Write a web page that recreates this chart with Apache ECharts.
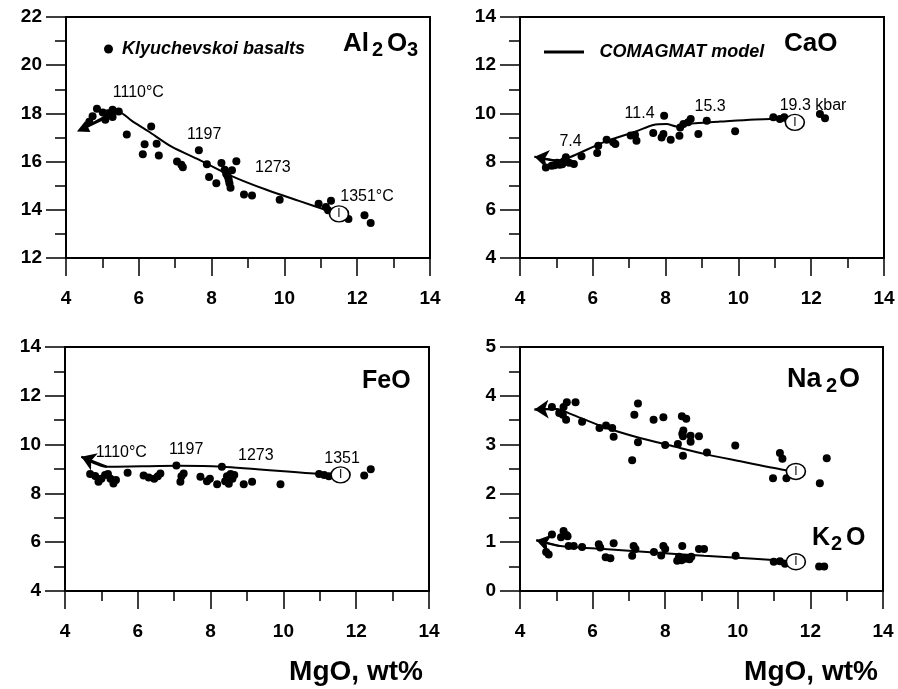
<!DOCTYPE html>
<html><head><meta charset="utf-8">
<script src="https://cdn.jsdelivr.net/npm/echarts@6/dist/echarts.min.js"></script>
<style>html,body{margin:0;padding:0;background:#fff}#c{width:898px;height:689px}</style>
</head><body><div id="c"></div>
<script>
// ---------- DATA ----------
// Panel A: Al2O3 vs MgO
const mgoAl = [4.64,4.73,4.85,5.01,5.08,5.15,5.28,5.28,5.45,5.67,6.16,6.11,6.34,6.49,6.55,7.05,7.17,7.21,7.65,7.87,7.93,8.13,8.27,8.36,8.40,8.44,8.47,8.49,8.52,8.56,8.68,8.89,9.11,9.87,10.94,11.14,11.28,11.20,11.76,12.20,12.37];
const alVals = [17.65,17.88,18.19,18.04,17.74,18.01,18.15,17.85,18.08,17.12,16.72,16.31,17.46,16.74,16.25,16.00,15.87,15.77,16.47,15.89,15.36,15.10,15.94,15.66,15.50,15.39,15.25,15.10,14.92,15.64,16.01,14.63,14.59,14.42,14.25,14.12,14.38,13.98,13.62,13.77,13.45];
// Panel B: CaO vs MgO
const mgoCa = [4.71,4.87,4.95,5.02,5.09,5.16,5.20,5.26,5.35,5.48,5.69,6.12,6.15,6.38,6.56,6.62,7.04,7.16,7.20,7.66,7.89,7.94,7.96,8.14,8.38,8.40,8.49,8.62,8.69,8.90,9.13,9.91,10.96,11.14,11.26,12.24,12.38];
const caVals = [7.76,7.83,7.85,7.95,7.87,7.89,8.00,8.18,7.95,7.90,8.22,8.36,8.66,8.91,8.80,8.73,9.08,9.10,8.87,9.19,9.00,9.15,9.90,8.91,9.07,9.42,9.56,9.63,9.77,9.15,9.70,9.26,9.84,9.77,9.84,9.98,9.80];
// Panel C: FeO vs MgO
const mgoFe = [4.69,4.83,4.92,5.00,5.10,5.18,5.25,5.33,5.40,5.72,6.16,6.30,6.45,6.55,6.62,7.06,7.17,7.20,7.26,7.72,7.90,7.98,8.18,8.31,8.40,8.45,8.50,8.55,8.60,8.65,8.91,9.14,9.92,10.98,11.12,11.25,12.22,12.40];
const feVals = [8.79,8.71,8.48,8.60,8.75,8.80,8.60,8.41,8.55,8.85,8.73,8.65,8.60,8.70,8.82,9.14,8.48,8.70,8.82,8.68,8.50,8.60,8.37,9.09,8.50,8.70,8.40,8.80,8.60,8.75,8.37,8.48,8.37,8.79,8.75,8.70,8.73,8.99];
// Panel D: Na2O and K2O vs MgO
const mgoNa = [4.88,5.08,5.18,5.20,5.27,5.29,5.53,5.71,6.19,6.37,6.54,6.58,7.09,7.15,7.25,7.25,7.68,7.95,8.00,8.35,8.46,8.58,8.49,8.50,8.47,8.49,8.70,8.70,8.93,9.15,9.93,10.97,11.16,11.23,11.34,12.26,12.45];
const naVals = [3.77,3.65,3.61,3.77,3.51,3.87,3.87,3.47,3.34,3.39,3.34,3.16,2.68,3.61,3.84,3.05,3.51,3.56,2.99,3.01,3.58,3.53,3.17,3.29,3.22,2.77,3.18,3.06,3.17,2.84,2.98,2.31,2.83,2.71,2.31,2.21,2.72];
const mgoK = [4.72,4.79,4.88,5.13,5.20,5.28,5.31,5.34,5.48,5.71,6.17,6.21,6.36,6.49,6.58,7.09,7.13,7.18,7.69,7.89,7.95,8.00,8.33,8.38,8.45,8.47,8.55,8.67,8.72,8.93,9.07,9.94,10.99,11.16,11.30,12.24,12.38];
const kVals = [0.80,0.75,1.16,1.10,1.23,1.15,1.12,0.92,0.92,0.90,0.96,0.89,0.69,0.67,0.98,0.72,0.92,0.86,0.80,0.73,0.92,0.86,0.62,0.70,0.63,0.92,0.66,0.65,0.70,0.86,0.86,0.72,0.60,0.61,0.56,0.50,0.50];

// COMAGMAT model paths: [MgO, oxide], from the starting point (open circle) to the arrow end
const alModel = [[11.50,13.83],[11.23,13.95],[10.40,14.37],[9.49,14.84],[8.57,15.39],[7.65,16.08],[6.90,16.62],[6.27,17.25],[5.80,17.70],[5.45,18.06],[4.45,17.35]];
const caModel = [[11.55,9.63],[10.87,9.77],[9.49,9.66],[8.58,9.56],[8.30,9.46],[8.03,9.56],[7.66,9.52],[7.20,9.26],[6.29,8.80],[5.37,8.18],[5.00,8.04],[4.40,8.20]];
const feModel = [[11.57,8.76],[11.02,8.79],[8.31,9.09],[7.10,9.13],[5.15,9.09],[4.45,9.50]];
const naModel = [[11.60,2.45],[11.28,2.48],[9.99,2.67],[9.07,2.81],[8.15,2.98],[7.23,3.15],[6.31,3.36],[5.39,3.63],[5.02,3.73],[4.40,3.72]];
const kModel  = [[11.60,0.60],[11.28,0.62],[10.45,0.66],[9.07,0.72],[7.69,0.79],[6.31,0.86],[5.11,0.92],[4.45,1.04]];

// Annotations along the model curves: [MgO, value, text]
const alNotes = [[5.27,18.86,'1110°C'],[7.31,17.12,'1197'],[9.18,15.75,'1273'],[11.52,14.54,'1351°C']];
const caNotes = [[5.07,8.81,'7.4'],[6.86,9.98,'11.4'],[8.78,10.27,'15.3'],[11.12,10.31,'19.3 kbar']];
const feNotes = [[4.83,9.67,'1110°C'],[6.84,9.78,'1197'],[8.74,9.53,'1273'],[11.11,9.41,'1351']];

// Axis ranges [min, max, interval]
const xRange = [4, 14, 2];
const alRange = [12, 22, 2];
const caRange = [4, 14, 2];
const feRange = [4, 14, 2];
const naKRange = [0, 5, 1];
const xTitle = 'MgO, wt%';
const legendNames = ['Klyuchevskoi basalts', 'COMAGMAT model'];

// ---------- CHART ----------
const FONT = "'Liberation Sans', Arial, Helvetica, sans-serif";
const chart = echarts.init(document.getElementById('c'), null, {renderer:'canvas'});
const grids = [
  {left:66, top:17, width:364, height:241},
  {left:520, top:17, width:364, height:241},
  {left:65, top:347, width:364, height:244},
  {left:520, top:347, width:363, height:244}
].map(g => Object.assign(g, {show:true, borderColor:'#000', borderWidth:2, backgroundColor:'transparent'}));

function axisCommon(r){
  return {type:'value', min:r[0], max:r[1], interval:r[2],
    axisLine:{show:true, onZero:false, lineStyle:{color:'#000', width:2}},
    minorTick:{show:true, splitNumber:2, length:10, lineStyle:{color:'#000', width:1.5}},
    splitLine:{show:false}, minorSplitLine:{show:false},
    axisLabel:{color:'#000', fontSize:19, fontWeight:'bold', fontFamily:FONT, margin:31}};
}
function xAx(i){ const a = axisCommon(xRange); a.gridIndex=i; a.position='bottom';
  a.axisTick={show:true, length:18, lineStyle:{color:'#000', width:1.5}}; return a; }
function yAx(i, r){ const a = axisCommon(r); a.gridIndex=i; a.position='left';
  a.axisTick={show:true, length:20, lineStyle:{color:'#000', width:1.5}};
  a.minorTick.length=11; a.axisLabel.margin=24; return a; }

const pairs = (xs, ys) => xs.map((x,k)=>[x, ys[k]]);
function basalts(i, xs, ys){ return {type:'scatter', name:legendNames[0], xAxisIndex:i, yAxisIndex:i,
  symbol:'circle', symbolSize:8, itemStyle:{color:'#000', opacity:1}, data:pairs(xs,ys), z:3, silent:true}; }
function model(i, pts){ return {type:'line', name:legendNames[1], xAxisIndex:i, yAxisIndex:i, data:pts,
  symbol:'none', smooth:0.25, lineStyle:{color:'#000', width:2}, itemStyle:{color:'#000'}, z:4, silent:true}; }
function arrow(i, pts, sym, size){ const n = pts.length; return {type:'lines', coordinateSystem:'cartesian2d',
  xAxisIndex:i, yAxisIndex:i, symbol:['none', sym], symbolSize:[0, size],
  lineStyle:{color:'#000', width:2, opacity:1}, itemStyle:{color:'#000'},
  data:[{coords:[pts[n-2], pts[n-1]]}], z:4, silent:true}; }
function endCircle(i, pts){ return {type:'scatter', xAxisIndex:i, yAxisIndex:i, data:[pts[0]],
  symbol:'circle', symbolSize:[19,16], itemStyle:{color:'#fff', borderColor:'#000', borderWidth:1.5, opacity:1},
  label:{show:true, position:'inside', formatter:'I', color:'#000', fontSize:12, fontFamily:FONT}, z:6, silent:true}; }
function notes(i, arr){ return {type:'scatter', xAxisIndex:i, yAxisIndex:i,
  data:arr.map(a=>({value:[a[0],a[1]], label:{formatter:a[2]}})), symbolSize:1,
  itemStyle:{color:'rgba(0,0,0,0)', opacity:1},
  label:{show:true, position:'right', distance:0, color:'#000', fontSize:16, fontFamily:FONT}, z:7, silent:true}; }

const legText = {fontSize:18, fontStyle:'italic', fontWeight:'bold', fontFamily:FONT, color:'#000'};
function txt(t, x, y, size, align){ return {type:'text', x:x, y:y, silent:true,
  style:{text:t, fill:'#000', font:'bold '+size+'px '+FONT, align:align||'left', verticalAlign:'middle'}}; }

const option = {
  animation:false,
  backgroundColor:'#fff',
  grid:grids,
  xAxis:[xAx(0), xAx(1), xAx(2), xAx(3)],
  yAxis:[yAx(0, alRange), yAx(1, caRange), yAx(2, feRange), yAx(3, naKRange)],
  legend:[
    {data:[{name:legendNames[0], icon:'circle', itemStyle:{color:'#000', opacity:1}}], left:99, top:35, itemWidth:9, itemHeight:9, itemGap:0,
     selectedMode:false, textStyle:Object.assign({padding:[0,0,0,4]}, legText)},
    {data:[{name:legendNames[1], icon:'path://M0,0H40V3H0Z'}], left:539, top:38, itemWidth:43, itemHeight:3,
     selectedMode:false, textStyle:Object.assign({padding:[0,0,0,9]}, legText)}
  ],
  graphic:[
    txt('Al',343,44,26), txt('2',372,50.5,20), txt('O',387,44,26), txt('3',407,50.5,20),
    txt('CaO',784,44,26),
    txt('FeO',362,381.5,25),
    txt('Na',787,380,27), txt('2',826,386,20), txt('O',839,380,27),
    txt('K',812,538.5,25), txt('2',831,544,20), txt('O',846,538.5,25),
    txt(xTitle,356,672,28,'center'), txt(xTitle,811,672,28,'center')
  ],
  series:[
    basalts(0, mgoAl, alVals), model(0, alModel), arrow(0, alModel, 'triangle', 12), endCircle(0, alModel), notes(0, alNotes),
    basalts(1, mgoCa, caVals), model(1, caModel), arrow(1, caModel, 'arrow', 14), endCircle(1, caModel), notes(1, caNotes),
    basalts(2, mgoFe, feVals), model(2, feModel), arrow(2, feModel, 'arrow', 14), endCircle(2, feModel), notes(2, feNotes),
    basalts(3, mgoNa, naVals), model(3, naModel), arrow(3, naModel, 'arrow', 14), endCircle(3, naModel),
    basalts(3, mgoK, kVals), model(3, kModel), arrow(3, kModel, 'arrow', 14), endCircle(3, kModel)
  ]
};
chart.setOption(option);
</script></body></html>
